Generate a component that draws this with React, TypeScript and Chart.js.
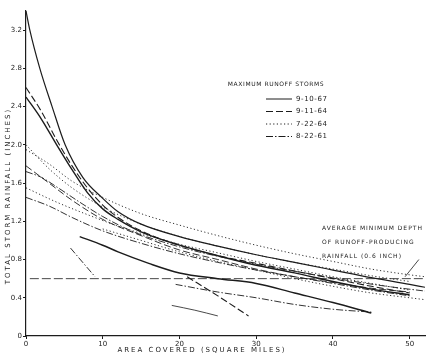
import React, { useEffect, useRef } from 'react';
import { Chart, registerables } from 'chart.js';

Chart.register(...registerables);

// ---- axes ----
const AREA_MAX = 52;
const RAIN_MAX = 3.4;
const X_TICKS = [0, 10, 20, 30, 40, 50];
const Y_TICKS = [0, 0.4, 0.8, 1.2, 1.6, 2.0, 2.4, 2.8, 3.2];
const X_TITLE = 'AREA COVERED (SQUARE MILES)';
const Y_TITLE = 'TOTAL STORM RAINFALL (INCHES)';

// ---- legend / notes ----
const LEGEND_TITLE = 'MAXIMUM RUNOFF STORMS';
const STORMS = ['9-10-67', '9-11-64', '7-22-64', '8-22-61'];
const NOTE_LINES = ['AVERAGE MINIMUM DEPTH', 'OF RUNOFF-PRODUCING', 'RAINFALL (0.6 INCH)'];
const MIN_DEPTH = 0.6;
const MIN_DEPTH_X = [0.5, 52];

// ---- curves (area in sq mi, rainfall in inches) ----
const S1_X = [0, 0.5, 1.8, 3.4, 5.1, 7.4, 10, 12, 15, 20, 25, 30, 35, 40, 45, 50, 52];
const S1_Y = [3.4, 3.2, 2.8, 2.4, 2.0, 1.66, 1.44, 1.3, 1.17, 1.04, 0.94, 0.85, 0.77, 0.69, 0.61, 0.54, 0.51];
const S2_X = [0, 2, 4, 6, 8, 10, 12, 15, 20, 25, 30, 35, 40, 45, 50];
const S2_Y = [2.5, 2.27, 2.0, 1.74, 1.5, 1.33, 1.22, 1.09, 0.95, 0.84, 0.74, 0.66, 0.57, 0.49, 0.43];
const S3_X = [7, 10, 12, 16, 20, 25, 30, 35, 40, 45];
const S3_Y = [1.04, 0.95, 0.88, 0.76, 0.66, 0.6, 0.55, 0.45, 0.35, 0.24];
const S4_X = [19, 22, 25];
const S4_Y = [0.32, 0.27, 0.21];

const D1_X = [0, 2, 4, 6, 8, 10, 12, 15, 20, 25, 30, 35, 40, 45, 50];
const D1_Y = [2.6, 2.35, 2.05, 1.78, 1.55, 1.37, 1.24, 1.1, 0.95, 0.84, 0.76, 0.68, 0.6, 0.52, 0.45];
const D2_X = [0, 3, 6, 10, 15, 20, 25, 30, 35, 40, 45, 50];
const D2_Y = [1.78, 1.6, 1.42, 1.22, 1.05, 0.9, 0.8, 0.7, 0.62, 0.56, 0.5, 0.46];
const D3_X = [21, 25, 29];
const D3_Y = [0.62, 0.42, 0.21];

const P1_X = [0, 3, 6, 10, 15, 20, 25, 30, 35, 40, 45, 50, 52];
const P1_Y = [1.95, 1.8, 1.62, 1.45, 1.28, 1.16, 1.05, 0.95, 0.86, 0.78, 0.7, 0.64, 0.62];
const P2_X = [0, 3, 6, 10, 15, 20, 25, 30, 35, 40, 45, 50];
const P2_Y = [2.0, 1.75, 1.55, 1.35, 1.17, 1.04, 0.94, 0.85, 0.77, 0.7, 0.63, 0.57];
const P3_X = [0, 4, 8, 12, 16, 20, 25, 30, 35, 40, 45, 50];
const P3_Y = [1.55, 1.4, 1.27, 1.15, 1.05, 0.96, 0.87, 0.78, 0.7, 0.62, 0.55, 0.48];
const P4_X = [10, 15, 20, 25, 30, 35, 40, 45, 50, 52];
const P4_Y = [1.12, 1.0, 0.88, 0.78, 0.69, 0.6, 0.52, 0.45, 0.4, 0.38];

const M1_X = [0, 2, 4, 7, 10, 14, 18, 22, 27, 32, 37, 42, 47, 52];
const M1_Y = [1.72, 1.66, 1.56, 1.4, 1.25, 1.09, 0.98, 0.89, 0.8, 0.72, 0.65, 0.58, 0.52, 0.47];
const M2_X = [0, 3, 6, 10, 15, 20, 25, 30, 35, 40, 45, 50];
const M2_Y = [1.45, 1.36, 1.24, 1.1, 0.97, 0.86, 0.77, 0.69, 0.62, 0.55, 0.48, 0.42];
const M3_X = [5.8, 7.5, 9];
const M3_Y = [0.92, 0.76, 0.62];
const M4_X = [19.5, 25, 30, 35, 40, 45];
const M4_Y = [0.54, 0.46, 0.4, 0.33, 0.28, 0.25];

const CURVES = [
  { storm: '9-10-67', x: S1_X, y: S1_Y, w: 1.2 },
  { storm: '9-10-67', x: S2_X, y: S2_Y, w: 1.4 },
  { storm: '9-10-67', x: S3_X, y: S3_Y, w: 1.5 },
  { storm: '9-10-67', x: S4_X, y: S4_Y, w: 0.8 },
  { storm: '9-11-64', x: D1_X, y: D1_Y, w: 1.1 },
  { storm: '9-11-64', x: D2_X, y: D2_Y, w: 0.9 },
  { storm: '9-11-64', x: D3_X, y: D3_Y, w: 1.1 },
  { storm: '7-22-64', x: P1_X, y: P1_Y, w: 0.9 },
  { storm: '7-22-64', x: P2_X, y: P2_Y, w: 0.9 },
  { storm: '7-22-64', x: P3_X, y: P3_Y, w: 0.9 },
  { storm: '7-22-64', x: P4_X, y: P4_Y, w: 0.9 },
  { storm: '8-22-61', x: M1_X, y: M1_Y, w: 0.9 },
  { storm: '8-22-61', x: M2_X, y: M2_Y, w: 0.9 },
  { storm: '8-22-61', x: M3_X, y: M3_Y, w: 0.9 },
  { storm: '8-22-61', x: M4_X, y: M4_Y, w: 0.9 },
];

const INK = '#1c1c1c';
const FONT = '"DejaVu Sans", sans-serif';
const DASHES: Record<string, number[]> = {
  '9-10-67': [],
  '9-11-64': [7, 3],
  '7-22-64': [1.2, 2.4],
  '8-22-61': [7, 2, 1.5, 2],
};

const textPlugin = {
  id: 'textPlugin',
  afterDraw(chart: any) {
    const { ctx } = chart;
    const xs = chart.scales.x;
    const ys = chart.scales.y;
    ctx.save();
    ctx.fillStyle = INK;
    ctx.strokeStyle = INK;
    ctx.textBaseline = 'middle';

    // axis titles
    ctx.font = `7px ${FONT}`;
    (ctx as any).letterSpacing = '2px';
    ctx.textAlign = 'center';
    ctx.fillText(X_TITLE, 202, 350);
    ctx.save();
    ctx.translate(8, 196);
    ctx.rotate(-Math.PI / 2);
    ctx.fillText(Y_TITLE, 0, 0);
    ctx.restore();

    // legend
    ctx.font = `6px ${FONT}`;
    (ctx as any).letterSpacing = '0.6px';
    ctx.textAlign = 'center';
    ctx.fillText(LEGEND_TITLE, 276, 84);
    ctx.textAlign = 'left';
    (ctx as any).letterSpacing = '0.6px';
    ctx.font = `7px ${FONT}`;
    STORMS.forEach((s, i) => {
      const yy = 99 + i * 12.5;
      ctx.save();
      ctx.lineWidth = 1;
      ctx.setLineDash(DASHES[s]);
      ctx.beginPath();
      ctx.moveTo(266, yy);
      ctx.lineTo(292, yy);
      ctx.stroke();
      ctx.restore();
      ctx.fillText(s, 296, yy);
    });

    // note
    ctx.font = `6px ${FONT}`;
    (ctx as any).letterSpacing = '1px';
    NOTE_LINES.forEach((t, i) => ctx.fillText(t, 322, 228 + i * 14));
    ctx.lineWidth = 0.8;
    ctx.setLineDash([]);
    ctx.beginPath();
    ctx.moveTo(xs.getPixelForValue(51.2), ys.getPixelForValue(0.8));
    ctx.lineTo(xs.getPixelForValue(49.4), ys.getPixelForValue(MIN_DEPTH + 0.02));
    ctx.stroke();
    ctx.restore();
  },
};

export default function App() {
  const ref = useRef<HTMLCanvasElement | null>(null);
  useEffect(() => {
    if (!ref.current) return;
    const datasets: any[] = CURVES.map((c) => ({
      label: c.storm,
      data: c.x.map((xv, i) => ({ x: xv, y: c.y[i] })),
      showLine: true,
      borderColor: INK,
      borderWidth: c.w,
      borderDash: DASHES[c.storm],
      pointRadius: 0,
      cubicInterpolationMode: 'monotone',
      fill: false,
    }));
    datasets.push({
      label: 'min depth',
      data: MIN_DEPTH_X.map((xv) => ({ x: xv, y: MIN_DEPTH })),
      showLine: true,
      borderColor: '#333',
      borderWidth: 0.9,
      borderDash: [9, 3],
      pointRadius: 0,
      fill: false,
    });
    const chart = new Chart(ref.current, {
      type: 'scatter',
      data: { datasets },
      plugins: [textPlugin],
      options: {
        animation: false,
        responsive: false,
        devicePixelRatio: 1,
        layout: { padding: { top: 11, right: 9, left: 0, bottom: 0 } },
        plugins: { legend: { display: false }, tooltip: { enabled: false } },
        scales: {
          x: {
            type: 'linear',
            min: 0,
            max: AREA_MAX,
            afterFit: (s: any) => { s.height = 20; },
            afterBuildTicks: (s: any) => { s.ticks = X_TICKS.map((v) => ({ value: v })); },
            grid: { drawOnChartArea: false, drawTicks: true, tickLength: 3, color: INK },
            border: { display: true, color: INK, width: 1.2 },
            ticks: { color: INK, font: { family: FONT, size: 7 }, padding: 1, maxRotation: 0 },
          },
          y: {
            type: 'linear',
            min: 0,
            max: RAIN_MAX,
            afterFit: (s: any) => { s.width = 26; },
            afterBuildTicks: (s: any) => { s.ticks = Y_TICKS.map((v) => ({ value: v })); },
            grid: { drawOnChartArea: false, drawTicks: true, tickLength: 3, color: INK },
            border: { display: true, color: INK, width: 1.2 },
            ticks: {
              color: INK,
              font: { family: FONT, size: 7 },
              padding: 1,
              callback: (v: any) => (v === 0 ? '0' : Number(v).toFixed(1)),
            },
          },
        },
      },
    });
    return () => chart.destroy();
  }, []);
  return (
    <div style={{ position: 'fixed', left: 0, top: 0, width: 434, height: 356, background: '#fff' }}>
      <canvas ref={ref} width={434} height={356} />
    </div>
  );
}
